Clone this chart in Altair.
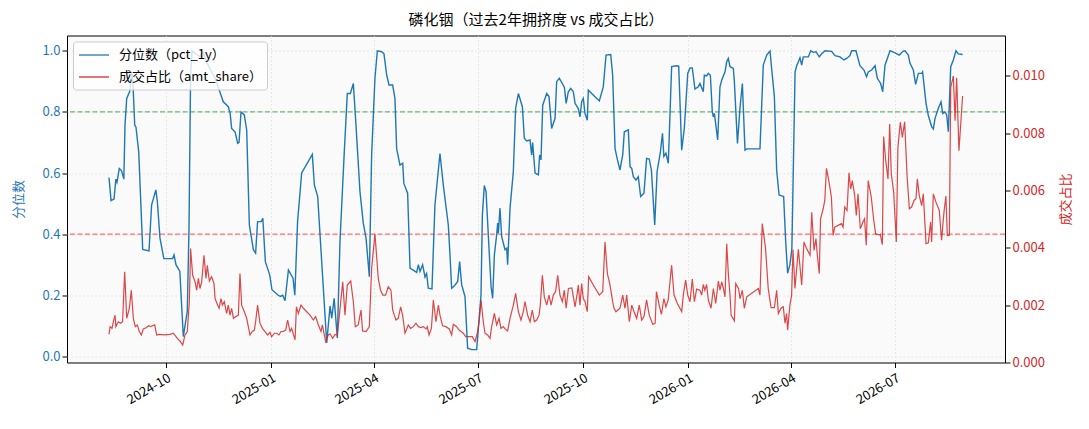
import pandas as pd
import altair as alt

# data: day offsets from START, values
START = pd.Timestamp("2024-08-12")

BLUE_DAY = [0, 1.8, 4.4, 6, 7, 9, 11, 13, 14, 15.5, 18, 20, 21, 22.5, 23.6, 26, 29.5, 35, 37.3, 41,
            42.3, 44.6, 48, 55.7, 56.9, 58.6, 62, 65, 68.5, 70, 71.4, 72.6, 79.6, 82, 85.8, 92.8, 97, 100,
            104.4, 106, 107.3, 110.3, 112.6, 113.8, 115.5, 118.4, 120.5, 122.8, 126.3, 128.3, 130, 133.2,
            134.6, 136.8, 140.6, 142.6, 148, 150, 152, 154, 157, 161, 162.6, 165, 168.6, 177.9, 179.7,
            182.6, 190.5, 193.4, 194.9, 197, 199.8, 202.1, 205.6, 208.5, 211.2, 213.8, 216.1, 219.6, 222.5,
            224.9, 227.8, 229.8, 232.7, 234.8, 238.6, 240.6, 243, 245, 248.2, 250.2, 251.7, 254.6, 257,
            258, 261.3, 263.4, 269.2, 270.7, 272.1, 274.4, 276.5, 277.9, 279.4, 282.6, 285.2, 289.6, 292.5,
            296.9, 298.4, 299.8, 302.5, 305.1, 306.8, 308.6, 311.5, 313.8, 317.3, 321.7, 325.5, 326.7,
            328.4, 329.9, 332.5, 334.3, 335.7, 337.2, 339.2, 340.1, 340.7, 342.1, 343.6, 346.5, 348, 348.8,
            350.9, 353.8, 355.8, 358.2, 361.7, 363.4, 365.5, 368.4, 369.8, 370.7, 372.8, 375.7, 376.8, 378,
            379.5, 383, 385, 387.3, 390.3, 391.7, 394, 396.7, 398.5, 400, 401.9, 404, 406.3, 407.8, 410.7,
            412.1, 413.6, 415, 416.5, 418.5, 419.4, 429, 432.5, 434.9, 439, 440.7, 442.8, 444.9, 447.1,
            449.5, 450.9, 454.4, 455.9, 457.4, 458.8, 461.1, 463.1, 465.2, 468.1, 470.4, 472.7, 474.6,
            477.5, 479.6, 482.5, 484.3, 485.5, 487.3, 489.4, 492.3, 496.7, 498.5, 501.1, 503.4, 506.4,
            508.4, 510.4, 512.7, 515.6, 517.1, 520, 520.9, 522.9, 524.4, 526.2, 527.9, 528.8, 529.7, 532.6,
            534.6, 536.1, 539, 540.5, 541.9, 543.4, 546.3, 547.2, 549.9, 552.1, 554.2, 556.5, 558, 569.6,
            572.5, 575.5, 578.4, 579.8, 582.2, 584.2, 586.3, 588, 590.3, 592.1, 593.8, 595.8, 597.5, 598.8,
            600.3, 601.7, 603.2, 604.6, 606.1, 607.5, 611.9, 614, 616.3, 618.6, 621.5, 623.6, 626.5, 632.3,
            635.3, 639.6, 643, 645.4, 648.3, 649.8, 653.6, 657.1, 660.6, 662.9, 664.4, 667.3, 670.3, 672.3,
            675.2, 677, 679, 683.4, 686.9, 691.5, 695, 696.5, 699.4, 700.9, 703.8, 705.8, 708.2, 711.1,
            711.9, 714.9, 716.9, 719.8, 721.3, 722.8, 725.7, 728, 729.5, 731.5, 733, 734.4, 736.5, 738.8,
            741.1, 743.2, 746.9]
BLUE_PCT = [0.585, 0.51, 0.515, 0.58, 0.57, 0.615, 0.607, 0.58, 0.757, 0.844, 0.866, 0.926, 0.89, 0.757,
            0.75, 0.67, 0.35, 0.345, 0.496, 0.545, 0.507, 0.387, 0.32, 0.32, 0.332, 0.30, 0.278, 0.065,
            0.147, 0.42, 0.92, 1.0, 0.98, 0.997, 0.96, 0.91, 0.866, 0.833, 0.817, 0.795, 0.746, 0.735,
            0.697, 0.70, 0.80, 0.79, 0.74, 0.43, 0.349, 0.338, 0.441, 0.441, 0.452, 0.31, 0.267, 0.218,
            0.20, 0.196, 0.20, 0.182, 0.283, 0.256, 0.20, 0.441, 0.60, 0.661, 0.561, 0.523, 0.044, 0.165,
            0.125, 0.19, 0.06, 0.376, 0.648, 0.86, 0.86, 0.893, 0.757, 0.539, 0.436, 0.387, 0.261, 0.659,
            0.91, 1.0, 0.997, 0.99, 0.92, 0.888, 0.888, 0.844, 0.68, 0.626, 0.632, 0.566, 0.534, 0.289,
            0.275, 0.30, 0.278, 0.30, 0.26, 0.271, 0.223, 0.221, 0.496, 0.664, 0.561, 0.43, 0.33, 0.223,
            0.232, 0.245, 0.31, 0.234, 0.196, 0.027, 0.022, 0.022, 0.20, 0.463, 0.559, 0.539, 0.354, 0.229,
            0.19, 0.332, 0.398, 0.436, 0.403, 0.485, 0.392, 0.349, 0.354, 0.30, 0.485, 0.605, 0.812, 0.86,
            0.817, 0.714, 0.705, 0.708, 0.659, 0.70, 0.60, 0.594, 0.659, 0.643, 0.822, 0.86, 0.85, 0.746,
            0.779, 0.899, 0.91, 0.893, 0.88, 0.828, 0.866, 0.877, 0.866, 0.828, 0.81, 0.784, 0.833, 0.844,
            0.795, 0.773, 0.871, 0.836, 0.882, 0.986, 0.988, 0.92, 0.68, 0.643, 0.61, 0.659, 0.735, 0.741,
            0.621, 0.615, 0.588, 0.577, 0.588, 0.523, 0.534, 0.648, 0.646, 0.61, 0.43, 0.605, 0.67, 0.73,
            0.654, 0.665, 0.632, 0.948, 0.951, 0.95, 0.675, 0.746, 0.926, 0.944, 0.944, 0.875, 0.882,
            0.893, 0.866, 0.92, 0.918, 0.926, 0.92, 0.80, 0.784, 0.795, 0.708, 0.882, 0.904, 0.931, 0.964,
            0.975, 0.948, 0.942, 0.899, 0.697, 0.812, 0.893, 0.675, 0.679, 0.679, 0.953, 0.986, 0.999,
            0.942, 0.85, 0.61, 0.528, 0.526, 0.523, 0.376, 0.272, 0.30, 0.35, 0.62, 0.93, 0.951, 0.964,
            0.977, 0.953, 0.98, 0.98, 1.0, 0.995, 0.997, 0.98, 0.99, 1.0, 0.998, 0.984, 0.98, 0.97, 0.975,
            0.984, 1.0, 1.0, 0.951, 0.937, 0.915, 0.931, 0.937, 0.951, 0.91, 0.893, 0.866, 0.953, 1.0,
            0.995, 0.986, 0.999, 1.0, 0.986, 0.959, 0.937, 0.89, 0.926, 0.926, 0.931, 0.828, 0.788, 0.752,
            0.744, 0.779, 0.812, 0.833, 0.795, 0.80, 0.79, 0.735, 0.948, 0.97, 1.0, 0.99, 0.988]

RED_DAY = [0, 1, 2.6, 3.8, 5.3, 6, 8.1, 10.2, 11.9, 13.7, 15.5, 17.8, 19.5, 21.3, 23, 24.8, 26.5, 28.3,
           30, 32.9, 34.7, 36.4, 38.2, 40, 41.7, 44, 49, 53.4, 56.3, 59.8, 62, 64.5, 66.5, 68.5, 70.3,
           71.4, 73.2, 75.3, 76.7, 78.2, 79.6, 81.1, 83.1, 84.9, 86, 87.8, 89.8, 91.9, 92.8, 95.1, 96.3,
           98, 99.2, 100.9, 102.9, 104.4, 105.9, 107.3, 108.9, 110.9, 113.2, 114.6, 116.1, 118.4, 120.5,
           121.9, 123.4, 125.4, 127.2, 128.3, 130, 132.1, 134.2, 136.5, 138.8, 140.9, 142.3, 144.7,
           146.7, 148.7, 150.5, 152.5, 154.6, 156.3, 158.4, 159.8, 162.8, 164, 165.7, 168, 170.1, 173,
           175.9, 178.8, 180.8, 183.2, 185.5, 186.7, 188.4, 189.6, 191.9, 193.4, 195.7, 197.8, 199.8,
           201.6, 204.5, 206.5, 208.5, 211.5, 213.8, 215.5, 218.1, 220.5, 221.9, 224.9, 227.8, 229.8,
           232.7, 235.6, 237.6, 239.6, 242, 244.4, 246.7, 248.2, 249.6, 251.1, 253.1, 255.2, 256.9, 259,
           261.9, 263.9, 266.3, 268.6, 270.7, 272.7, 275, 277.4, 278.5, 280, 282.1, 283.8, 286.1, 288.2,
           289.6, 291.9, 294.8, 297.8, 299.8, 301.3, 304.2, 306.3, 308, 310, 312.1, 313.8, 315.9, 317.9,
           320.3, 322.6, 324, 325.5, 327.5, 329, 331.3, 333.4, 334.8, 337.2, 339.2, 341.3, 343, 345,
           346.5, 348.8, 350.9, 353.8, 355.8, 358.2, 360.5, 362.5, 364, 366.3, 368.4, 370.4, 372.2,
           374.2, 376.3, 377.4, 379.2, 380.9, 383, 385, 386.8, 388.8, 390.8, 392.6, 394.6, 396.7, 398.4,
           400, 402, 405, 407.8, 409.8, 410.7, 412.1, 413.6, 415, 416.5, 418.5, 419.7, 423.8, 429, 432,
           434, 436.1, 438.4, 440.7, 441.9, 443.6, 447.1, 449.5, 451.5, 453, 455.3, 457.4, 459.4, 461.7,
           464, 466.1, 468.1, 470.4, 472.7, 475.8, 477.9, 479, 481.4, 483.4, 485.5, 487.3, 489.3, 492.3,
           494.4, 497.3, 499.6, 501.1, 502.5, 504.6, 506.4, 508.4, 510.4, 512.2, 514.2, 517.1, 518.6,
           520, 521.4, 522.9, 524.4, 526.8, 528.8, 530.9, 533.2, 534.6, 536.1, 537.6, 539, 540.5, 542,
           543.4, 544.3, 547.2, 548.4, 550.8, 552.2, 554.2, 555.9, 558, 568.2, 569.6, 571.6, 574.5,
           576.8, 579.3, 582.2, 584.2, 585.7, 588, 590, 591.5, 592.9, 593.8, 595.8, 597.3, 598.5, 600.2,
           603.2, 606.1, 608.1, 610.4, 613.4, 614.9, 616.9, 618.6, 619.8, 621.5, 622.6, 624.9, 626.3,
           627.8, 630.1, 632.1, 633.6, 635, 640.9, 642.3, 643.8, 645.8, 647.5, 649, 650.4, 652.5, 653.9,
           655.4, 657.4, 659.7, 661.1, 662.6, 664.3, 667, 669, 670.8, 672.8, 674.9, 676.7, 677.8, 679.5,
           681.6, 683.1, 684.5, 686.6, 688.9, 690.3, 692.4, 694.2, 696.2, 698.3, 700.3, 702.3, 704.4,
           706.1, 707.3, 709, 711.1, 712.5, 714.9, 716.9, 718.9, 719.8, 721.3, 723.6, 726.5, 728.5,
           730.6, 732.3, 733.5, 735.3, 736.5, 738.8, 740.3, 741.7, 743.7, 746.9]
RED_SHARE = [0.00098, 0.00125, 0.00119, 0.00142, 0.00165, 0.00125, 0.00142, 0.00137, 0.00142, 0.00316,
             0.00154, 0.00189, 0.00252, 0.00154, 0.00125, 0.00131, 0.00108, 0.00096, 0.00117, 0.00122,
             0.00128, 0.00125, 0.00128, 0.00131, 0.00096, 0.00098, 0.00096, 0.00098, 0.00102, 0.00084,
             0.00075, 0.00061, 0.00096, 0.00108, 0.00212, 0.00397, 0.00304, 0.00281, 0.00252, 0.00293,
             0.00258, 0.00281, 0.00374, 0.00293, 0.00339, 0.00284, 0.00299, 0.00275, 0.00223, 0.00200,
             0.00189, 0.00223, 0.00200, 0.00212, 0.00171, 0.00200, 0.00165, 0.00189, 0.00154, 0.00160,
             0.00165, 0.00310, 0.00200, 0.00177, 0.00154, 0.00125, 0.00096, 0.00108, 0.00113, 0.00142,
             0.00200, 0.00137, 0.00119, 0.00108, 0.00096, 0.00105, 0.00090, 0.00102, 0.00102, 0.00096,
             0.00108, 0.00108, 0.00113, 0.00148, 0.00108, 0.00119, 0.00079, 0.00194, 0.00171, 0.00200,
             0.00189, 0.00177, 0.00165, 0.00148, 0.00160, 0.00131, 0.00108, 0.00131, 0.00096, 0.00073,
             0.00096, 0.00100, 0.00084, 0.00098, 0.00096, 0.00165, 0.00281, 0.00165, 0.00270, 0.00284,
             0.00212, 0.00125, 0.00131, 0.00183, 0.00110, 0.00108, 0.00125, 0.00328, 0.00449, 0.00293,
             0.00252, 0.00235, 0.00235, 0.00264, 0.00252, 0.00183, 0.00165, 0.00148, 0.00154, 0.00194,
             0.00165, 0.00102, 0.00131, 0.00119, 0.00125, 0.00137, 0.00125, 0.00122, 0.00125, 0.00117,
             0.00125, 0.00096, 0.00119, 0.00218, 0.00142, 0.00200, 0.00165, 0.00128, 0.00125, 0.00117,
             0.00096, 0.00133, 0.00125, 0.00113, 0.00108, 0.00102, 0.00090, 0.00090, 0.00090, 0.00090,
             0.00073, 0.00108, 0.00148, 0.00218, 0.00142, 0.00102, 0.00096, 0.00084, 0.00125, 0.00171,
             0.00131, 0.00154, 0.00119, 0.00125, 0.00117, 0.00110, 0.00154, 0.00200, 0.00241, 0.00177,
             0.00148, 0.00177, 0.00212, 0.00165, 0.00142, 0.00183, 0.00142, 0.00148, 0.00165, 0.00200,
             0.00304, 0.00229, 0.00200, 0.00235, 0.00200, 0.00235, 0.00247, 0.00304, 0.00235, 0.00212,
             0.00252, 0.00189, 0.00258, 0.00260, 0.00194, 0.00244, 0.00270, 0.00200, 0.00275, 0.00223,
             0.00212, 0.00177, 0.00299, 0.00270, 0.00235, 0.00247, 0.00420, 0.00310, 0.00270, 0.00212,
             0.00189, 0.00177, 0.00189, 0.00235, 0.00189, 0.00235, 0.00142, 0.00200, 0.00177, 0.00154,
             0.00200, 0.00148, 0.00160, 0.00218, 0.00165, 0.00133, 0.00137, 0.00247, 0.00200, 0.00168,
             0.00223, 0.00194, 0.00218, 0.00339, 0.00235, 0.00206, 0.00189, 0.00177, 0.00235, 0.00287,
             0.00235, 0.00212, 0.00291, 0.00212, 0.00256, 0.00252, 0.00235, 0.00272, 0.00252, 0.00272,
             0.00218, 0.00189, 0.00258, 0.00206, 0.00284, 0.00252, 0.00281, 0.00258, 0.00229, 0.00414,
             0.00304, 0.00235, 0.00165, 0.00145, 0.00275, 0.00258, 0.00223, 0.00252, 0.00189, 0.00229,
             0.00258, 0.00235, 0.00484, 0.00397, 0.00258, 0.00191, 0.00191, 0.00252, 0.00171, 0.00189,
             0.00194, 0.00137, 0.00171, 0.00113, 0.00200, 0.00235, 0.00393, 0.00258, 0.00395, 0.00270,
             0.00420, 0.00397, 0.00374, 0.00524, 0.00391, 0.00432, 0.00374, 0.00310, 0.00501, 0.00536,
             0.00565, 0.00677, 0.00628, 0.00576, 0.00443, 0.00472, 0.00484, 0.00472, 0.00542, 0.00530,
             0.00661, 0.00605, 0.00634, 0.00582, 0.00513, 0.00588, 0.00466, 0.00490, 0.00501, 0.00409,
             0.00634, 0.00576, 0.00501, 0.00449, 0.00446, 0.00446, 0.00411, 0.00788, 0.00709, 0.00640,
             0.00831, 0.00657, 0.00594, 0.00420, 0.00750, 0.00837, 0.00785, 0.00839, 0.00652, 0.00536,
             0.00542, 0.00565, 0.00571, 0.00640, 0.00582, 0.00547, 0.00588, 0.00414, 0.00417, 0.00490,
             0.00420, 0.00588, 0.00559, 0.00530, 0.00426, 0.00524, 0.00580, 0.00443, 0.00443, 0.00958,
             0.00999, 0.00843, 0.00993, 0.00738, 0.00929]

THRESHOLDS = [0.8, 0.4]
THRESHOLD_COLORS = ["#2ca02c", "#ff3030"]
TICK_MONTHS = ["2024-10-01", "2025-01-01", "2025-04-01", "2025-07-01", "2025-10-01",
               "2026-01-01", "2026-04-01", "2026-07-01"]
SERIES = ["分位数（pct_1y）", "成交占比（amt_share）"]

BLUE = "#1f77b4"
RED = "#d62728"
FONT = "Noto Sans CJK SC"


def to_dates(days):
    return [START + pd.Timedelta(days=d) for d in days]


blue_df = pd.DataFrame({"date": to_dates(BLUE_DAY), "pct": BLUE_PCT, "series": SERIES[0]})
red_df = pd.DataFrame({"date": to_dates(RED_DAY), "amt": RED_SHARE, "series": SERIES[1]})

x_domain = [(START + pd.Timedelta(days=-36.75)).isoformat(), (START + pd.Timedelta(days=784)).isoformat()]
x_ticks = [alt.DateTime(year=int(s[:4]), month=int(s[5:7]), date=1) for s in TICK_MONTHS]

x_enc = alt.X(
    "date:T",
    title=None,
    scale=alt.Scale(domain=x_domain),
    axis=alt.Axis(values=x_ticks, format="%Y-%m", labelAngle=330, labelAlign="right",
                  labelBaseline="top", labelFontSize=13, labelPadding=4, tickSize=5,
                  tickColor="black", domain=False, grid=True, gridColor="#d9d9d9",
                  gridDash=[1.5, 2.5], gridWidth=0.8, labelColor="black")
)

# legend line: 30px long, laid out as a 15px symbol (path shifted right)
color_enc = alt.Color(
    "series:N",
    scale=alt.Scale(domain=SERIES, range=[BLUE, RED]),
    legend=alt.Legend(title=None, orient="top-left", offset=6, symbolType="M-1,0H3",
                      symbolSize=225, symbolStrokeWidth=1.5,
                      labelFontSize=13, labelOffset=24, labelFont=FONT, labelLimit=300,
                      padding=5, rowPadding=6,
                      fillColor="rgba(255,255,255,0.8)", strokeColor="#cccccc", cornerRadius=3)
)

y_left = alt.Y(
    "pct:Q",
    title="分位数",
    scale=alt.Scale(domain=[-0.02, 1.05], nice=False, zero=False),
    axis=alt.Axis(values=[0, 0.2, 0.4, 0.6, 0.8, 1.0], format=".1f", labelColor=BLUE,
                  titleColor=BLUE, labelFontSize=13, titleFontSize=13, titleFontWeight="normal",
                  tickSize=5, tickColor="black", domain=False, grid=True, gridColor="#d9d9d9",
                  gridDash=[1.5, 2.5], gridWidth=0.8, titlePadding=16)
)

thr_df = pd.DataFrame({"pct": THRESHOLDS, "c": THRESHOLD_COLORS})
rules = alt.Chart(thr_df).mark_rule(strokeDash=[5, 2.5], strokeWidth=1, opacity=0.85).encode(
    y=alt.Y("pct:Q"),
    stroke=alt.Stroke("c:N", scale=None)
)

blue_line = alt.Chart(blue_df).mark_line(strokeWidth=1.4).encode(
    x=x_enc, y=y_left, color=color_enc
)

left = alt.layer(rules, blue_line)

red_line = alt.Chart(red_df).mark_line(strokeWidth=1.2, opacity=0.85).encode(
    x=x_enc,
    y=alt.Y(
        "amt:Q",
        title="成交占比",
        scale=alt.Scale(domain=[0, 0.0114], nice=False, zero=False),
        axis=alt.Axis(orient="right", values=[0, 0.002, 0.004, 0.006, 0.008, 0.010], format=".3f",
                      labelColor=RED, titleColor=RED, labelFontSize=13, titleFontSize=13,
                      titleFontWeight="normal", tickSize=5, tickColor="black", domain=False,
                      grid=False, titleAngle=270, titleBaseline="top", titlePadding=15)
    ),
    color=color_enc
)

chart = alt.layer(left, red_line).resolve_scale(y="independent").properties(
    width=938,
    height=327,
    autosize=alt.AutoSizeParams(type="none"),
    padding={"left": 59, "top": 27.5, "right": 76, "bottom": 58.5},
    title=alt.TitleParams("磷化铟（过去2年拥挤度 vs 成交占比）", fontSize=15, fontWeight="normal",
                          font=FONT, anchor="middle", offset=8, color="black")
).configure(
    font=FONT
).configure_view(
    stroke="black", strokeWidth=1, fill="#fafafa"
).configure_axis(
    labelFont=FONT, titleFont=FONT
)

chart.save("out.html", embed_options={"renderer": "svg", "actions": False})
